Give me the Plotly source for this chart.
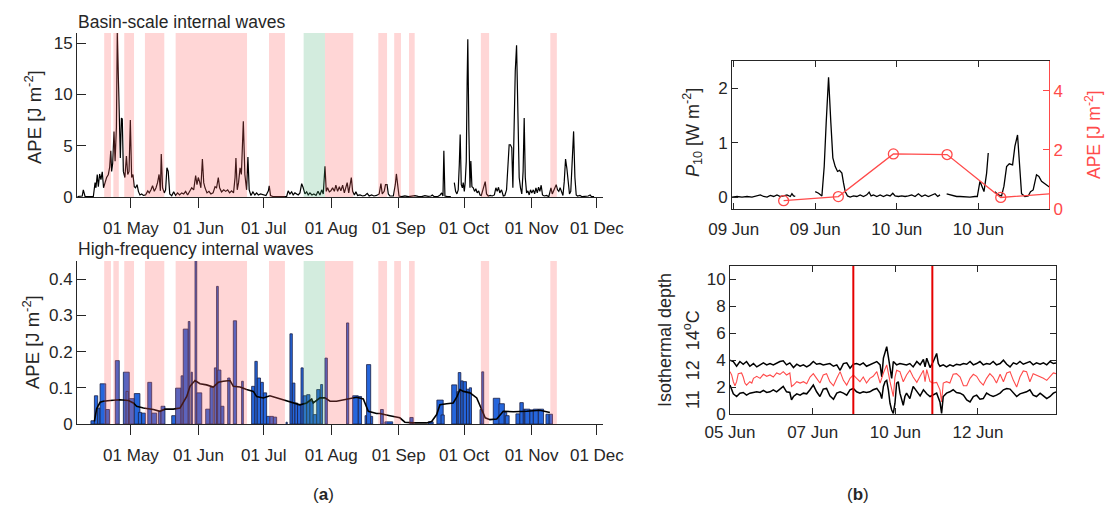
import pandas as pd
import plotly.graph_objects as go

# ================= DATA =================
# ---- Panel (a): offsets in days relative to 01 May ----
A_BASE = "2018-05-01"
a_xrange = (-24.8, 216.8)

basin_ape = [
    (-24.6,0.05),(-23.0,0.05),(-22.4,0.1),(-21.9,0.7),(-21.1,0.05),(-19.6,0.05),(-17.3,0.05),
    (-16.5,1.4),(-16.1,0.9),(-15.5,2.2),(-15.0,1.0),(-14.4,2.25),(-13.8,1.7),(-13.2,2.45),
    (-12.6,0.9),(-11.9,1.4),(-11.2,1.9),(-10.4,2.2),(-9.8,2.9),(-9.3,4.5),(-8.9,2.5),(-8.4,3.3),
    (-7.8,6.4),(-7.3,3.5),(-6.7,6.8),(-6.3,16.0),(-6.0,13.0),(-5.7,10.7),(-5.4,8.0),(-4.9,3.8),
    (-4.4,7.7),(-4.0,7.6),(-3.5,2.5),(-2.8,1.9),(-2.1,4.0),(-1.5,2.2),(-0.9,2.5),(-0.3,7.5),
    (0.3,1.9),(0.9,2.2),(1.5,1.0),(2.1,0.9),(2.8,1.2),(3.4,0.55),(4.1,0.2),(4.9,0.3),(5.7,0.15),
    (6.7,0.2),(7.7,0.6),(8.4,0.4),(9.2,0.7),(9.9,1.1),(10.7,0.55),(11.5,0.9),(12.2,1.4),(12.9,2.2),
    (13.5,0.6),(13.9,4.2),(14.5,0.9),(15.3,0.4),(15.9,0.7),(16.5,2.85),(17.1,2.5),(17.8,0.3),
    (18.7,0.13),(19.6,0.5),(20.5,0.15),(21.4,0.4),(22.3,0.2),(23.3,0.4),(24.2,0.3),(25.1,0.55),
    (26.0,0.2),(26.9,0.55),(27.9,0.9),(28.8,0.7),(29.7,2.1),(30.3,1.2),(30.9,1.9),(31.5,1.5),
    (32.1,0.9),(32.8,3.7),(33.4,1.4),(34.0,0.9),(34.9,0.4),(35.8,0.55),(36.7,0.3),(37.7,0.4),
    (38.6,1.0),(39.3,0.9),(40.1,1.9),(40.7,0.9),(41.6,0.5),(42.6,0.7),(43.5,0.55),(44.4,0.7),
    (45.3,0.4),(46.2,0.6),(47.1,0.4),(47.8,1.9),(48.2,3.8),(48.8,0.7),(49.4,1.4),(50.1,2.85),
    (50.7,2.2),(51.6,7.4),(52.3,2.2),(53.1,0.7),(53.7,3.9),(54.3,0.7),(55.1,0.15),(56.0,0.5),
    (56.9,0.2),(57.7,0.4),(58.5,0.2),(59.5,0.3),(60.8,0.2),(62.0,0.15),(63.1,0.6),(63.5,1.1),
    (64.1,0.15),(65.4,0.03),(66.9,0.03),(68.4,0.06),(70.0,0.03),(71.5,0.06),(72.2,0.6),(73.0,0.3),
    (73.8,0.5),(74.5,0.2),(75.3,0.4),(76.1,0.3),(76.8,0.2),(77.6,0.4),(78.4,1.3),(79.1,0.9),
    (79.9,0.3),(80.7,0.5),(81.4,0.2),(82.2,0.4),(83.1,0.2),(84.0,0.3),(85.0,0.15),(85.9,0.55),
    (86.8,0.2),(87.6,0.7),(88.3,0.3),(89.1,3.0),(89.7,0.55),(90.3,0.9),(91.1,0.5),(91.8,0.6),
    (92.6,0.9),(93.4,0.55),(94.1,1.15),(94.9,0.55),(95.7,1.0),(96.4,0.6),(97.2,1.15),(98.0,0.4),
    (98.7,0.9),(99.3,1.4),(100.0,0.4),(100.6,1.2),(101.2,1.9),(101.8,0.55),(102.6,0.2),(103.3,0.5),
    (104.1,0.15),(105.2,0.2),(106.4,0.1),(107.5,0.15),(108.5,0.35),(109.4,0.1),(110.5,0.2),
    (111.6,0.1),(112.8,0.15),(114.0,0.3),(114.8,1.3),(115.4,0.3),(116.3,0.55),(116.9,1.2),
    (117.6,1.2),(118.2,0.3),(118.9,0.1),(120.5,0.1),(121.4,1.2),(121.9,2.25),(122.5,0.9),
    (123.1,0.1),(124.3,0.03),(125.8,0.1),(127.4,0.03),(128.9,0.06),(130.4,0.13),(131.9,0.06),
    (133.5,0.03),(135.0,0.13),(136.5,0.06),(137.8,0.1),(138.4,0.2),(139.3,0.03),(140.8,0.03),
    (142.0,0.2),(142.7,0.4),(143.3,0.1),(143.7,4.5),(144.2,0.1),(145.4,0.03),(146.9,0.03),
    (147.7,None),
    (148.5,1.4),(149.1,0.55),(149.7,0.3),(150.3,0.7),(150.8,3.2),(151.2,6.1),(151.7,1.2),
    (152.2,0.9),(152.6,1.4),(153.1,0.55),(153.5,1.4),(154.0,3.5),(154.4,11.3),(154.7,15.4),
    (155.2,6.4),(155.7,0.9),(156.1,3.5),(156.6,1.0),(157.2,0.9),(157.8,0.55),(158.4,0.8),
    (159.0,0.4),(159.7,0.6),(160.3,0.2),(160.9,0.15),(161.5,0.55),(162.1,0.9),(162.7,1.5),
    (163.3,0.3),(164.1,0.1),(165.0,0.15),(165.9,0.1),(166.9,0.2),(167.6,0.9),(168.2,0.55),
    (168.8,0.95),(169.4,0.4),(170.2,0.7),(171.0,0.1),(171.7,0.15),(172.5,0.7),(173.1,2.5),
    (173.7,5.1),(174.3,5.1),(174.9,4.8),(175.4,0.9),(175.9,6.4),(176.5,12.3),(177.1,14.8),
    (177.7,9.7),(178.3,1.9),(178.9,0.9),(179.5,0.3),(180.1,2.5),(180.6,7.7),(181.1,1.9),
    (181.7,0.4),(182.3,0.6),(182.9,0.2),(183.5,0.7),(184.1,0.4),(184.8,0.7),(185.4,0.3),
    (186.0,0.9),(186.6,0.4),(187.2,0.95),(187.8,0.55),(188.4,1.15),(189.0,0.2),(189.8,0.1),
    (190.9,0.15),(191.9,0.03),(192.9,0.9),(193.5,0.3),(194.1,0.6),(194.7,1.0),(195.3,1.2),
    (195.9,0.7),(196.5,0.55),(197.1,0.9),(197.8,0.4),(198.4,0.15),(199.0,1.5),(199.6,3.7),
    (200.2,2.8),(200.8,1.2),(201.4,0.3),(202.0,0.55),(202.7,3.2),(203.3,6.4),(203.9,1.9),
    (204.5,0.2),(205.1,0.1),(206.2,0.15),(207.2,0.03),(208.5,0.03),(210.0,0.1),(210.9,0.2),
    (211.5,0.03),(212.7,0.03),
]

# high-frequency APE events: (start day, end day, APE)
hf_bars = [
    (-18.4,-16.8,0.009),(-16.8,-15.3,0.078),(-15.3,-14.2,0.044),(-14.2,-11.6,0.111),
    (-11.6,-9.9,0.040),(-7.2,-5.4,0.175),(-3.5,-0.8,0.143),(-2.3,-1.2,0.090),(-0.8,1.5,0.070),
    (1.5,4.1,0.084),(3.4,4.9,0.032),(4.9,6.6,0.030),(7.7,9.5,0.115),(9.5,11.8,0.030),
    (12.6,13.8,0.035),(13.8,15.6,0.049),(18.7,20.5,0.023),(20.5,23.0,0.099),(23.0,24.0,0.133),
    (24.0,26.3,0.262),(26.3,27.1,0.283),(27.6,28.2,0.143),(29.4,30.2,0.47),(30.2,32.5,0.086),
    (34.3,36.3,0.041),(36.3,37.8,0.101),(38.3,39.3,0.155),(39.3,40.1,0.380),(39.8,41.3,0.149),
    (41.3,42.7,0.049),(44.4,45.5,0.127),(47.0,48.5,0.285),(50.8,51.6,0.118),(55.4,56.9,0.104),
    (56.9,58.0,0.173),(58.0,59.5,0.127),(59.5,60.8,0.115),(60.8,62.3,0.086),(62.3,63.8,0.021),
    (63.8,65.4,0.021),(65.4,66.9,0.019),(71.2,71.8,0.005),(73.0,74.1,0.249),(74.1,75.3,0.113),
    (75.3,76.5,0.058),(76.5,78.1,0.053),(78.1,79.1,0.155),(79.1,80.7,0.078),(80.7,82.2,0.081),
    (82.2,83.7,0.063),(83.7,85.3,0.026),(85.3,86.8,0.095),(87.1,88.0,0.109),(89.1,90.2,0.182),
    (99.0,100.0,0.279),(101.8,104.4,0.078),(104.4,105.9,0.076),(107.5,108.2,0.023),
    (108.2,110.1,0.164),(110.1,111.0,0.021),(114.6,115.9,0.040),(116.6,120.2,0.006),
    (128.1,129.6,0.018),(136.5,138.8,0.006),(140.5,143.4,0.066),(142.4,143.9,0.025),
    (147.3,149.6,0.108),(149.6,150.3,0.089),(150.3,151.5,0.142),(151.5,152.6,0.119),
    (152.6,154.1,0.117),(154.1,155.4,0.096),(155.4,156.4,0.100),(160.3,161.8,0.040),
    (161.1,162.0,0.144),(166.4,169.4,0.071),(169.0,171.5,0.056),(171.4,172.6,0.032),
    (171.9,173.7,0.023),(176.8,178.6,0.028),(178.6,180.2,0.059),(180.2,180.9,0.041),
    (180.9,183.2,0.041),(183.2,184.8,0.039),(184.8,187.1,0.041),(187.1,189.5,0.041),
    (190.6,192.1,0.027),(192.1,193.6,0.027),
]

hf_smooth = [
    (-16.8,0.007),(-15.8,0.042),(-14.2,0.060),(-12.7,0.063),(-9.6,0.065),(-5.1,0.067),
    (-1.2,0.065),(1.1,0.058),(2.6,0.049),(5.7,0.044),(10.3,0.040),(13.3,0.035),(15.6,0.041),
    (19.4,0.041),(22.5,0.044),(23.3,0.053),(25.6,0.076),(27.1,0.104),(29.4,0.120),(31.7,0.111),
    (34.7,0.108),(37.8,0.102),(40.1,0.115),(42.4,0.118),(45.5,0.120),(47.0,0.104),(50.1,0.102),
    (53.1,0.095),(56.2,0.090),(57.7,0.076),(60.8,0.072),(63.8,0.078),(66.9,0.072),(71.5,0.065),
    (74.5,0.058),(77.6,0.053),(80.7,0.058),(83.0,0.069),(83.7,0.058),(86.8,0.072),(89.1,0.072),
    (91.4,0.063),(94.4,0.063),(99.0,0.069),(103.6,0.074),(106.7,0.069),(109.0,0.035),
    (112.8,0.029),(114.3,0.029),(118.9,0.023),(123.5,0.017),(125.8,0.005),(129.7,0.003),
    (135.8,0.003),(138.1,0.007),(140.4,0.026),(141.9,0.053),(145.0,0.056),(148.0,0.058),
    (149.6,0.074),(151.1,0.095),(152.7,0.090),(155.7,0.086),(158.8,0.072),(161.1,0.040),
    (162.7,0.017),(164.9,0.012),(168.0,0.014),(171.0,0.035),(175.6,0.034),(181.7,0.035),
    (187.8,0.038),(192.4,0.032),
]

pink_periods = [
    (-12.3,-9.2),(-8.1,-5.6),(-3.1,1.4),(6.4,15.3),(20.5,53.3),(63.4,70.7),(89.1,102.1),
    (113.6,117.6),(120.9,124.0),(127.7,130.3),(160.7,164.5),(192.6,195.6),
]
green_periods = [(79.3,89.1)]

# ---- Panel (b) top: hours relative to 09 Jun 00:00 ----
B1_BASE = "2018-06-09"
b1_xrange = (-0.25, 46.4)
p10 = [
    (-0.24,0.0),(0.49,0.01),(1.22,0.0),(1.96,0.01),(2.69,0.0),(3.43,0.02),(3.92,0.04),(4.41,0.01),
    (4.90,0.0),(5.39,0.03),(5.88,0.01),(6.37,0.04),(6.86,0.01),(7.35,0.02),(7.84,0.04),(8.33,0.01),
    (8.57,0.06),(8.81,0.02),(9.06,0.01),(10.5,None),
    (12.0,0.1),(12.49,0.07),(12.98,0.02),(13.32,0.56),(13.61,1.36),(13.96,2.2),(14.30,1.36),
    (14.59,0.72),(14.94,0.56),(15.28,0.47),(15.57,0.49),(15.92,0.44),(16.16,0.26),(16.41,0.1),
    (16.75,0.02),(17.14,0.0),(17.63,0.02),(18.12,0.01),(18.61,0.04),(19.10,0.01),(19.59,0.04),
    (19.93,0.09),(20.22,0.02),(20.57,0.04),(21.06,0.01),(21.55,0.04),(22.04,0.01),(22.53,0.04),
    (23.02,0.02),(23.41,0.07),(23.75,0.02),(24.24,0.01),(24.73,0.02),(25.22,0.01),(25.71,0.02),
    (26.20,0.04),(26.69,0.01),(27.18,0.06),(27.67,0.01),(28.16,0.04),(28.65,0.01),(29.14,0.04),
    (29.63,0.06),(30.02,0.01),(30.36,0.04),(30.8,None),
    (31.34,0.06),(31.83,0.04),(32.32,0.02),(32.81,0.01),(33.30,0.01),(34.04,0.0),(34.77,0.0),
    (35.50,0.01),(35.85,0.01),(36.24,0.29),(36.48,0.2),(36.83,0.1),(37.22,0.44),(37.46,0.81),
    (37.9,None),
    (38.44,0.1),(38.93,0.04),(39.42,0.02),(39.77,0.2),(40.16,0.56),(40.55,0.61),(41.04,0.59),
    (41.38,0.93),(41.77,1.14),(42.12,0.44),(42.36,0.06),(42.85,0.01),(43.34,0.02),(43.68,0.1),
    (44.07,0.13),(44.56,0.41),(44.91,0.38),(45.30,0.29),(45.79,0.24),(46.28,0.2),(46.62,0.17),
    (47.01,0.1),
]
ape_b = [(7.35,0.28),(15.4,0.42),(23.5,1.86),(31.4,1.84),(39.3,0.39),(47.3,0.53)]

# ---- Panel (b) bottom: days relative to 05 Jun 00:00 ----
B2_BASE = "2018-06-05"
b2_xrange = (0.0, 9.86)
iso_upper = [
    (0.00,4.0),(0.10,3.9),(0.20,3.55),(0.30,3.9),(0.40,3.7),(0.50,3.9),(0.60,3.55),(0.71,3.75),
    (0.81,3.5),(0.91,3.65),(1.01,3.8),(1.11,3.65),(1.21,3.75),(1.31,3.65),(1.41,3.8),(1.51,3.9),
    (1.61,3.95),(1.71,3.65),(1.81,3.8),(1.92,3.45),(2.02,3.7),(2.12,3.55),(2.22,3.65),(2.32,3.5),
    (2.42,3.65),(2.52,3.9),(2.62,3.7),(2.72,3.75),(2.82,3.65),(2.92,3.7),(3.02,3.75),(3.13,3.55),
    (3.23,3.65),(3.33,3.25),(3.43,3.75),(3.53,3.8),(3.63,3.4),(3.73,3.7),(3.83,3.75),(3.93,3.65),
    (4.03,3.8),(4.13,3.55),(4.23,3.65),(4.33,3.75),(4.44,3.9),(4.54,3.65),(4.59,2.75),(4.64,4.15),
    (4.69,4.5),(4.74,5.0),(4.79,4.25),(4.84,3.25),(4.89,2.65),(4.94,3.9),(5.04,3.65),(5.14,3.75),
    (5.24,3.7),(5.34,3.65),(5.44,3.75),(5.54,3.5),(5.65,3.9),(5.75,3.65),(5.85,4.05),(5.90,3.5),
    (5.95,4.15),(6.05,3.45),(6.15,3.9),(6.25,4.5),(6.30,3.75),(6.35,3.55),(6.45,3.65),(6.55,3.5),
    (6.65,3.65),(6.75,3.55),(6.85,3.7),(6.96,3.65),(7.06,3.75),(7.16,3.7),(7.26,3.9),(7.36,3.65),
    (7.46,3.75),(7.56,3.9),(7.66,3.65),(7.76,3.75),(7.86,3.7),(7.96,3.9),(8.06,3.65),(8.17,3.75),
    (8.27,4.0),(8.37,3.7),(8.47,3.5),(8.57,3.8),(8.67,3.7),(8.77,3.9),(8.87,3.7),(8.97,3.8),
    (9.07,3.9),(9.17,3.65),(9.27,3.8),(9.38,3.7),(9.48,3.8),(9.58,3.65),(9.68,3.9),(9.78,3.75),
    (9.86,3.8),
]
iso_mid = [
    (0.00,3.15),(0.05,2.9),(0.10,2.4),(0.15,2.1),(0.20,2.4),(0.25,3.0),(0.35,3.05),(0.40,2.75),
    (0.45,2.3),(0.50,2.15),(0.60,2.4),(0.66,2.3),(0.71,2.65),(0.81,2.8),(0.91,2.65),(1.01,2.95),
    (1.11,2.8),(1.21,2.9),(1.31,2.75),(1.41,3.05),(1.51,2.95),(1.61,3.15),(1.71,2.9),(1.81,3.05),
    (1.86,2.05),(1.92,2.15),(2.02,2.4),(2.12,2.3),(2.22,2.4),(2.32,2.25),(2.42,2.75),(2.52,3.0),
    (2.62,2.65),(2.72,2.3),(2.82,2.9),(2.92,3.0),(3.02,2.4),(3.13,2.1),(3.23,2.65),(3.33,3.15),
    (3.43,2.5),(3.53,2.15),(3.63,2.65),(3.73,2.9),(3.83,2.65),(3.93,2.4),(4.03,2.75),(4.13,2.3),
    (4.23,2.65),(4.33,2.8),(4.44,3.15),(4.49,2.75),(4.54,2.3),(4.64,3.05),(4.74,3.65),(4.84,2.4),
    (4.89,1.8),(4.94,1.3),(4.99,2.75),(5.04,3.25),(5.14,3.15),(5.24,2.4),(5.34,2.9),(5.44,3.25),
    (5.54,2.75),(5.65,2.35),(5.75,2.8),(5.85,3.25),(5.90,2.4),(5.95,3.3),(6.05,2.4),(6.15,2.3),
    (6.25,2.35),(6.35,1.8),(6.40,0.9),(6.45,2.3),(6.55,2.4),(6.65,2.3),(6.75,2.95),(6.85,3.0),
    (6.96,2.75),(7.06,2.1),(7.16,2.1),(7.26,2.65),(7.36,2.95),(7.46,2.8),(7.56,2.4),(7.66,2.15),
    (7.76,2.65),(7.86,3.0),(7.96,2.75),(8.06,2.3),(8.17,2.95),(8.27,2.4),(8.37,3.05),(8.47,3.15),
    (8.57,2.5),(8.67,2.0),(8.77,2.75),(8.87,3.2),(8.97,3.15),(9.07,2.4),(9.17,3.0),(9.27,2.9),
    (9.38,2.75),(9.48,2.65),(9.58,2.5),(9.68,2.75),(9.78,3.05),(9.86,3.0),
]
iso_lower = [
    (0.00,2.15),(0.05,1.8),(0.10,1.5),(0.20,1.3),(0.30,1.55),(0.40,1.6),(0.50,1.4),(0.60,1.55),
    (0.71,1.6),(0.81,1.65),(0.91,1.6),(1.01,1.75),(1.11,1.6),(1.21,1.65),(1.31,1.8),(1.41,1.65),
    (1.51,1.85),(1.61,2.05),(1.71,1.65),(1.81,1.6),(1.86,1.05),(1.92,1.3),(2.02,1.5),(2.12,1.4),
    (2.22,1.55),(2.32,1.5),(2.42,1.8),(2.52,2.15),(2.62,1.65),(2.72,1.3),(2.82,1.85),(2.92,1.9),
    (3.02,1.35),(3.13,1.1),(3.23,1.55),(3.33,1.65),(3.43,1.55),(3.53,1.4),(3.63,1.8),(3.73,1.9),
    (3.83,1.65),(3.93,1.55),(4.03,1.65),(4.13,1.6),(4.23,1.65),(4.33,1.8),(4.44,1.9),(4.54,1.55),
    (4.59,1.15),(4.64,2.05),(4.69,2.4),(4.74,2.5),(4.79,1.8),(4.84,0.8),(4.89,0.3),(4.94,0.05),
    (4.99,0.8),(5.04,2.3),(5.09,2.4),(5.14,1.55),(5.24,0.65),(5.29,1.3),(5.34,1.55),(5.44,1.15),
    (5.54,2.05),(5.65,1.65),(5.75,1.35),(5.85,1.8),(5.95,1.5),(6.05,1.3),(6.15,1.4),(6.25,1.55),
    (6.35,0.9),(6.40,0.05),(6.45,1.3),(6.55,1.55),(6.65,1.65),(6.75,1.8),(6.85,1.6),(6.96,1.55),
    (7.06,1.4),(7.16,1.05),(7.26,0.9),(7.36,1.3),(7.46,1.4),(7.56,1.1),(7.66,1.15),(7.76,1.55),
    (7.86,1.4),(7.96,1.3),(8.06,1.4),(8.17,1.55),(8.27,1.8),(8.37,1.9),(8.47,1.85),(8.57,1.55),
    (8.67,1.3),(8.77,1.5),(8.87,1.55),(8.97,1.65),(9.07,1.8),(9.17,1.4),(9.27,1.3),(9.38,1.55),
    (9.48,1.35),(9.58,1.15),(9.68,1.3),(9.78,1.55),(9.86,1.65),
]
event_days = [3.73, 6.12]

# ================= HELPERS =================
def to_time(base, offs, unit):
    b = pd.Timestamp(base)
    return [b + pd.Timedelta(o, unit=unit) for o in offs]

def split(pairs):
    return [p[0] for p in pairs], [p[1] for p in pairs]

W, H = 1105, 506
def fx(px): return px / W
def fy(py): return 1 - py / H

FONT = "Liberation Sans, Arial, sans-serif"
AX = "#262626"
PINK = "rgba(255,95,95,0.26)"
GREEN = "rgba(70,175,115,0.24)"
RED = "#ff4a4a"

fig = go.Figure()

# ---- (a) top ----
d, v = split(basin_ape)
fig.add_trace(go.Scatter(x=to_time(A_BASE, d, "D"), y=v, mode="lines",
                         line=dict(color="black", width=1.2), xaxis="x", yaxis="y",
                         connectgaps=False))

# ---- (a) bottom ----
starts = [b[0] for b in hf_bars]; ends = [b[1] for b in hf_bars]; hts = [b[2] for b in hf_bars]
mids = [(s + e) / 2 for s, e in zip(starts, ends)]
widths = [(e - s) * 86400000 for s, e in zip(starts, ends)]
fig.add_trace(go.Bar(x=to_time(A_BASE, mids, "D"), y=hts, width=widths,
                     marker=dict(color="#2566dc", line=dict(color="#1a1f45", width=0.8)),
                     xaxis="x2", yaxis="y2"))
d, v = split(hf_smooth)
fig.add_trace(go.Scatter(x=to_time(A_BASE, d, "D"), y=v, mode="lines",
                         line=dict(color="black", width=1.6), xaxis="x2", yaxis="y2"))

for (s, e) in pink_periods:
    for xr, yr in (("x", "y domain"), ("x2", "y2 domain")):
        x0, x1 = to_time(A_BASE, [s, e], "D")
        fig.add_shape(type="rect", xref=xr, yref=yr, x0=x0, x1=x1, y0=0, y1=1,
                      fillcolor=PINK, line_width=0, layer="above")
for (s, e) in green_periods:
    for xr, yr in (("x", "y domain"), ("x2", "y2 domain")):
        x0, x1 = to_time(A_BASE, [s, e], "D")
        fig.add_shape(type="rect", xref=xr, yref=yr, x0=x0, x1=x1, y0=0, y1=1,
                      fillcolor=GREEN, line_width=0, layer="above")

# ---- (b) top ----
h, v = split(p10)
fig.add_trace(go.Scatter(x=to_time(B1_BASE, h, "h"), y=v, mode="lines",
                         line=dict(color="black", width=1.3), xaxis="x3", yaxis="y3",
                         connectgaps=False))
h, v = split(ape_b)
fig.add_trace(go.Scatter(x=to_time(B1_BASE, h, "h"), y=v, mode="lines+markers",
                         line=dict(color=RED, width=1.3),
                         marker=dict(symbol="circle-open", size=10, color=RED, line=dict(width=1.3)),
                         cliponaxis=False, xaxis="x3", yaxis="y4"))

# ---- (b) bottom ----
for series, col, wd in ((iso_upper, "black", 1.5), (iso_mid, RED, 1.1), (iso_lower, "black", 1.5)):
    d, v = split(series)
    fig.add_trace(go.Scatter(x=to_time(B2_BASE, d, "D"), y=v, mode="lines",
                             line=dict(color=col, width=wd), xaxis="x4", yaxis="y5"))
for ev in event_days:
    t = to_time(B2_BASE, [ev, ev], "D")
    fig.add_trace(go.Scatter(x=t, y=[0, 11], mode="lines",
                             line=dict(color="#e60000", width=2), xaxis="x4", yaxis="y5"))

# ================= LAYOUT =================
tickfont = dict(family=FONT, size=17, color=AX)
a_rng = to_time(A_BASE, list(a_xrange), "D")
b1_rng = to_time(B1_BASE, list(b1_xrange), "h")
b2_rng = to_time(B2_BASE, list(b2_xrange), "D")

common = dict(showgrid=False, zeroline=False, showline=True, linewidth=1, automargin=False)
xa = dict(common, type="date", range=a_rng, dtick="M1", tick0="2018-05-01", tickformat="%d %b",
          linecolor=AX, ticks="outside", ticklen=10, tickcolor=AX, tickfont=tickfont,
          ticklabelstandoff=6)
ya = dict(common, linecolor=AX, ticks="inside", ticklen=9, tickcolor=AX,
          tickfont=dict(family=FONT, size=17, color=AX))

fig.update_layout(
    width=W, height=H, autosize=False, margin=dict(l=0, r=0, t=0, b=0),
    paper_bgcolor="white", plot_bgcolor="rgba(0,0,0,0)", showlegend=False,
    barmode="overlay", font=dict(family=FONT, color=AX),
    xaxis=dict(xa, domain=[fx(77), fx(603)], anchor="y"),
    yaxis=dict(ya, domain=[fy(197), fy(33)], anchor="x", range=[0, 16], tickvals=[0, 5, 10, 15]),
    xaxis2=dict(xa, domain=[fx(77), fx(603)], anchor="y2"),
    yaxis2=dict(ya, domain=[fy(424), fy(261)], anchor="x2", range=[0, 0.45],
                tickvals=[0, 0.1, 0.2, 0.3, 0.4]),
    xaxis3=dict(common, type="date", range=b1_rng, dtick=12 * 3600000, tick0="2018-06-09",
                tickformat="%d %b", domain=[fx(732), fx(1049)], anchor="y3",
                linecolor=AX, mirror="ticks", ticklabelstandoff=5,
                ticks="inside", ticklen=6, tickcolor=AX, tickfont=tickfont),
    yaxis3=dict(common, domain=[fy(209), fy(61)], anchor="x3", range=[-0.22, 2.5],
                tickvals=[0, 1, 2], linecolor=AX,
                ticks="inside", ticklen=6, tickcolor=AX, tickfont=tickfont),
    yaxis4=dict(common, overlaying="y3", side="right", anchor="x3", range=[0, 5],
                tickvals=[0, 2, 4], linecolor=RED,
                ticks="inside", ticklen=6, tickcolor=RED,
                tickfont=dict(family=FONT, size=17, color=RED)),
    xaxis4=dict(common, type="date", range=b2_rng, dtick=2.5 * 86400000, tick0="2018-06-05",
                tickformat="%d %b", domain=[fx(730), fx(1056)], anchor="y5",
                linecolor=AX, mirror="ticks", ticklabelstandoff=3,
                ticks="inside", ticklen=6, tickcolor=AX, tickfont=tickfont),
    yaxis5=dict(common, domain=[fy(414), fy(266)], anchor="x4", range=[0, 11],
                tickvals=[0, 2, 4, 6, 8, 10], linecolor=AX, mirror="ticks",
                ticks="inside", ticklen=6, tickcolor=AX, tickfont=tickfont),
)

def ann(text, x, y, size=17, color=AX, angle=0, xanchor="center", yanchor="middle"):
    fig.add_annotation(text=text, x=fx(x), y=fy(y), xref="paper", yref="paper",
                       showarrow=False, textangle=angle, xanchor=xanchor, yanchor=yanchor,
                       font=dict(family=FONT, size=size, color=color))

ann("Basin-scale internal waves", 76, 22, size=17.5, xanchor="left")
ann("High-frequency internal waves", 76, 249, size=17.5, xanchor="left")
ann("APE [J m<sup>-2</sup>]", 33, 117, size=18.5, angle=-90)
ann("APE [J m<sup>-2</sup>]", 31, 342, size=18.5, angle=-90)
ann("<i>P</i><sub>10</sub> [W m<sup>-2</sup>]", 692, 133, size=18, angle=-90)
ann("APE [J m<sup>-2</sup>]", 1093, 135, size=17.5, color=RED, angle=-90)
ann("Isothermal depth", 665, 340, size=18, angle=-90)
ann("11\u00a0\u00a012\u00a0\u00a014<sup>o</sup>C", 691, 360, size=18, angle=-90)
ann("(<b>a</b>)", 323, 494, size=17)
ann("(<b>b</b>)", 858, 494, size=17)

fig.write_html("out.html", config={"displayModeBar": False},
               post_script="document.body.style.margin='0px';"
                           "document.body.style.overflow='hidden';")
